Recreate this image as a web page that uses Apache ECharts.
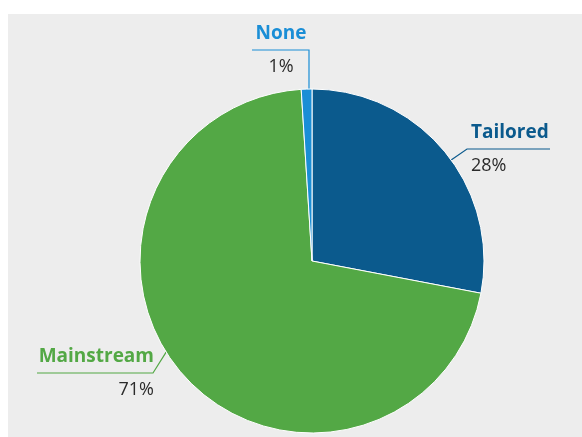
<!DOCTYPE html>
<html>
<head>
<meta charset="utf-8">
<script src="https://cdn.jsdelivr.net/npm/echarts@6/dist/echarts.min.js"></script>
<style>
  html, body { margin: 0; padding: 0; background: #ffffff; }
  #chart { width: 582px; height: 437px; }
</style>
</head>
<body>
<div id="chart"></div>
<script>
// Share of programmes by approach (percent)
const categories = ['Tailored', 'Mainstream', 'None'];
const shares = [28, 71, 1];
const colors = ['#0b5a8d', '#53a845', '#1a8ed6'];

// Pie geometry in pixels
const CX = 312, CY = 261, R = 172;

// Callout placement for each category: angle (deg, clockwise from 12 o'clock)
// where the leader leaves the pie, elbow point, end of underline, text alignment
const callouts = {
  Tailored:   { angle: 54,  elbow: [467, 149], end: [550, 149], align: 'left',   tx: 471 },
  Mainstream: { angle: 238, elbow: [153, 373], end: [37, 373],  align: 'right',  tx: 154 },
  None:       { angle: 359, elbow: [309, 50],  end: [252, 50],  align: 'center', tx: 281 }
};

function edgePoint(deg) {
  const a = deg * Math.PI / 180;
  return [CX + R * Math.sin(a), CY - R * Math.cos(a)];
}

const chart = echarts.init(document.getElementById('chart'), null, { renderer: 'canvas' });

const data = categories.map((name, i) => ({
  name: name,
  value: shares[i],
  itemStyle: { color: colors[i] },
  label: {
    rich: {
      n: { fontFamily: 'Open Sans', fontWeight: 'bold', fontSize: 19, color: colors[i], lineHeight: 33 },
      v: { fontFamily: 'Open Sans', fontSize: 18, color: '#2b2b2b', lineHeight: 33 }
    }
  },
  labelLine: { lineStyle: { color: colors[i], width: 1.2 } }
}));

chart.setOption({
  backgroundColor: '#ffffff',
  animation: false,
  graphic: [{
    type: 'rect',
    z: -10,
    shape: { x: 8, y: 14, width: 574, height: 423 },
    style: { fill: '#ededed' }
  }],
  series: [{
    type: 'pie',
    center: [CX, CY],
    radius: R,
    startAngle: 90,
    clockwise: true,
    data: data,
    itemStyle: { borderColor: '#ffffff', borderWidth: 1 },
    label: {
      show: true,
      overflow: 'none',
      width: 200,
      formatter: p => '{n|' + p.name + '}\n{v|' + p.value + '%}'
    },
    labelLine: { show: true, length: 15, length2: 40 },
    emphasis: { disabled: true },
    labelLayout: function (params) {
      const name = categories[params.dataIndex];
      const c = callouts[name];
      const lineY = c.end[1];
      return {
        x: c.tx,
        y: lineY,
        align: c.align,
        verticalAlign: 'middle',
        labelLinePoints: [edgePoint(c.angle), c.elbow, c.end]
      };
    }
  }]
});
</script>
</body>
</html>
